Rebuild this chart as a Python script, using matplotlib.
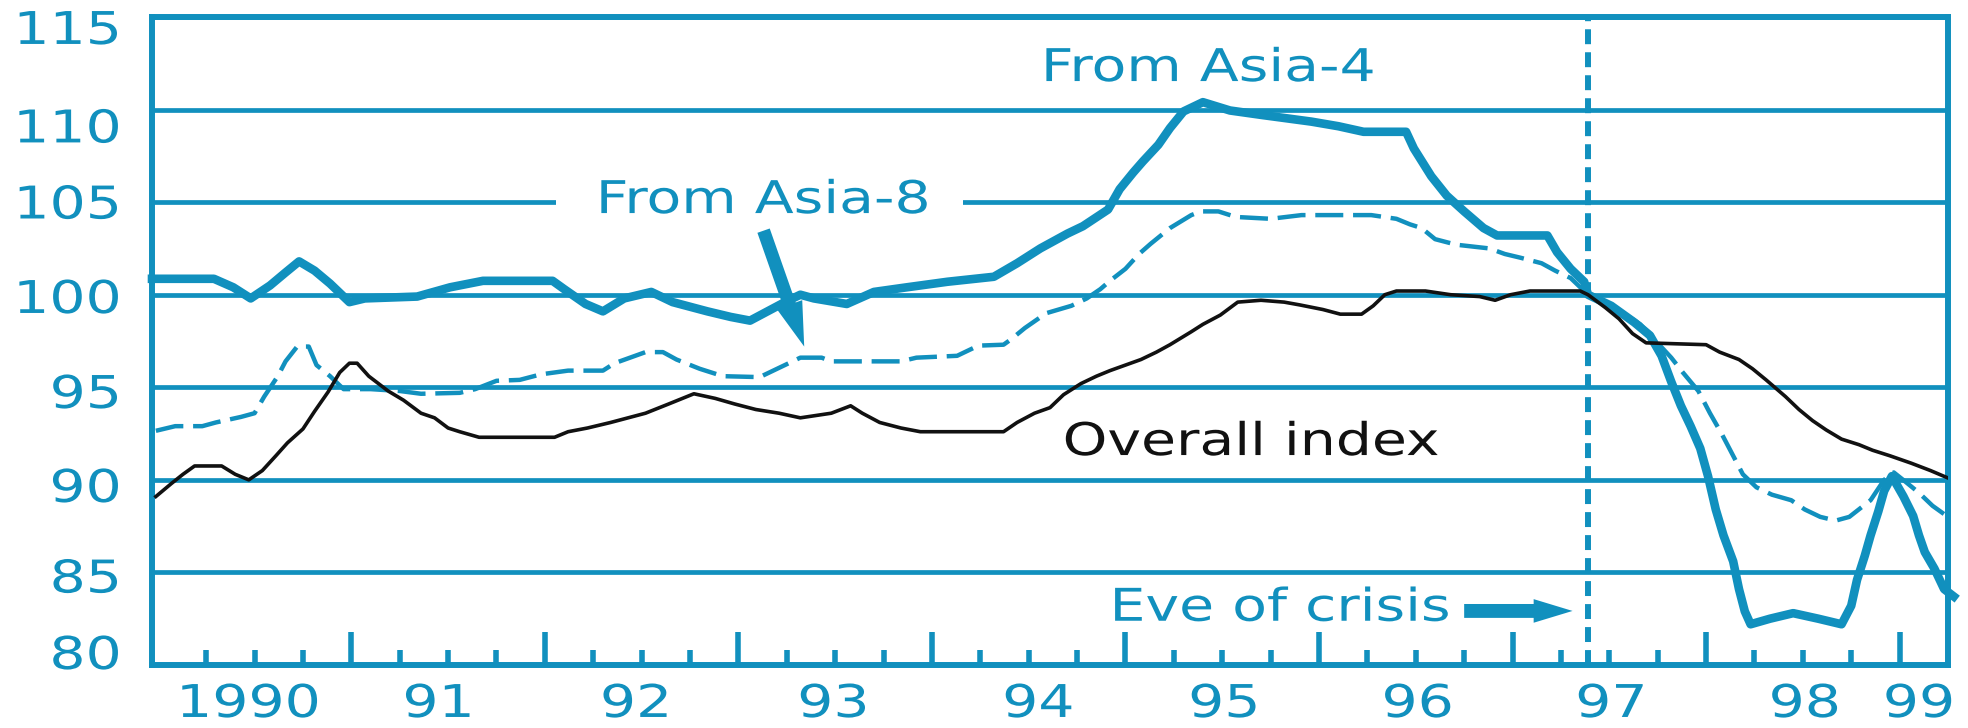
import matplotlib
matplotlib.use('Agg')
import matplotlib.pyplot as plt
from matplotlib.patheffects import AbstractPathEffect
from matplotlib.transforms import Affine2D, ScaledTranslation
from matplotlib.patches import Rectangle

BLUE = '#1190BE'
BLACK = '#111111'

# ---------------- data ----------------
overall_x = [1989.99, 1990.07, 1990.13, 1990.19, 1990.33, 1990.40, 1990.47, 1990.54, 1990.61, 1990.67,
             1990.75, 1990.81, 1990.88, 1990.94, 1990.99, 1991.03, 1991.09, 1991.19, 1991.27, 1991.36,
             1991.43, 1991.50, 1991.56, 1991.66, 1992.05, 1992.12, 1992.22, 1992.34, 1992.43, 1992.52,
             1992.64, 1992.77, 1992.88, 1992.98, 1993.09, 1993.21, 1993.32, 1993.48, 1993.58, 1993.64,
             1993.73, 1993.84, 1993.94, 1994.37, 1994.44, 1994.53, 1994.61, 1994.68, 1994.77, 1994.85,
             1994.92, 1995.00, 1995.08, 1995.16, 1995.23, 1995.34, 1995.40, 1995.49, 1995.58, 1995.70,
             1995.82, 1995.90, 1996.02, 1996.11, 1996.22, 1996.28, 1996.34, 1996.40, 1996.55, 1996.68,
             1996.83, 1996.91, 1996.99, 1997.09, 1997.35, 1997.39, 1997.48, 1997.55, 1997.62, 1997.69,
             1998.00, 1998.07, 1998.17, 1998.24, 1998.31, 1998.41, 1998.48, 1998.55, 1998.62, 1998.70,
             1998.79, 1998.86, 1998.95, 1999.06, 1999.16, 1999.25]
overall_y = [89.1, 89.8, 90.3, 90.75, 90.75, 90.3, 90.0, 90.5, 91.3, 92.0,
             92.75, 93.7, 94.75, 95.8, 96.3, 96.3, 95.6, 94.8, 94.3, 93.6,
             93.35, 92.8, 92.6, 92.3, 92.3, 92.6, 92.8, 93.1, 93.35, 93.6,
             94.1, 94.65, 94.4, 94.1, 93.8, 93.6, 93.35, 93.6, 94.0, 93.6,
             93.1, 92.8, 92.6, 92.6, 93.1, 93.6, 93.9, 94.6, 95.2, 95.6,
             95.9, 96.2, 96.5, 96.9, 97.3, 98.0, 98.4, 98.9, 99.6, 99.7,
             99.6, 99.45, 99.2, 98.95, 98.95, 99.4, 100.0, 100.2, 100.2, 100.0,
             99.9, 99.7, 100.0, 100.2, 100.2, 100.0, 99.3, 98.7, 97.9, 97.4,
             97.3, 96.9, 96.5, 96.0, 95.4, 94.5, 93.8, 93.2, 92.7, 92.2,
             91.9, 91.6, 91.3, 90.9, 90.5, 90.1]

asia4_x = [1989.97, 1990.29, 1990.39, 1990.48, 1990.58, 1990.66, 1990.73, 1990.81, 1990.89, 1990.99,
           1991.07, 1991.34, 1991.51, 1991.68, 1992.04, 1992.10, 1992.21, 1992.30, 1992.41, 1992.55,
           1992.66, 1992.84, 1992.96, 1993.06, 1993.15, 1993.24, 1993.32, 1993.39, 1993.56, 1993.70,
           1993.87, 1994.08, 1994.32, 1994.44, 1994.56, 1994.70, 1994.78, 1994.91, 1994.97, 1995.04,
           1995.09, 1995.17, 1995.23, 1995.30, 1995.40, 1995.54, 1995.71, 1995.96, 1996.10, 1996.23,
           1996.45, 1996.49, 1996.58, 1996.66, 1996.75, 1996.85, 1996.92, 1997.18, 1997.23, 1997.30,
           1997.37, 1997.39, 1997.51, 1997.63, 1997.71, 1997.77, 1997.82, 1997.87, 1997.92, 1997.97,
           1998.01, 1998.05, 1998.09, 1998.14, 1998.17, 1998.20, 1998.23, 1998.33, 1998.45, 1998.58,
           1998.70, 1998.75, 1998.78, 1998.82, 1998.85, 1998.89, 1998.92, 1998.96, 1999.02, 1999.07,
           1999.10, 1999.13, 1999.18, 1999.23, 1999.28]
asia4_y = [100.86, 100.86, 100.4, 99.8, 100.5, 101.2, 101.8, 101.3, 100.6, 99.6,
           99.8, 99.9, 100.4, 100.75, 100.75, 100.3, 99.5, 99.1, 99.8, 100.15,
           99.6, 99.1, 98.8, 98.6, 99.1, 99.6, 100.0, 99.8, 99.5, 100.15,
           100.4, 100.7, 100.97, 101.7, 102.5, 103.3, 103.7, 104.6, 105.7, 106.6,
           107.2, 108.1, 109.0, 109.9, 110.4, 109.95, 109.7, 109.35, 109.1, 108.8,
           108.8, 107.9, 106.4, 105.35, 104.5, 103.6, 103.2, 103.2, 102.3, 101.4,
           100.7, 100.0, 99.4, 98.5, 97.8, 96.7, 95.3, 94.0, 92.9, 91.7,
           90.2, 88.4, 87.0, 85.6, 84.1, 82.9, 82.2, 82.5, 82.8, 82.5,
           82.2, 83.2, 84.6, 85.9, 87.0, 88.3, 89.4, 90.2, 89.1, 88.05,
           87.0, 86.1, 85.2, 84.1, 83.7]

asia8_x = [1989.99, 1990.09, 1990.23, 1990.30, 1990.43, 1990.50, 1990.55, 1990.62, 1990.66, 1990.72,
           1990.78, 1990.82, 1990.89, 1990.96, 1991.10, 1991.25, 1991.36, 1991.56, 1991.64, 1991.75,
           1991.87, 1991.98, 1992.12, 1992.30, 1992.36, 1992.44, 1992.52, 1992.61, 1992.68, 1992.80,
           1992.92, 1993.11, 1993.24, 1993.32, 1993.43, 1993.48, 1993.84, 1993.92, 1994.13, 1994.24,
           1994.37, 1994.41, 1994.48, 1994.59, 1994.72, 1994.80, 1994.87, 1994.92, 1995.00, 1995.07,
           1995.13, 1995.23, 1995.34, 1995.39, 1995.48, 1995.57, 1995.75, 1995.91, 1996.27, 1996.40,
           1996.47, 1996.53, 1996.60, 1996.71, 1996.88, 1996.96, 1997.04, 1997.15, 1997.22, 1997.30,
           1997.39, 1997.48, 1997.56, 1997.66, 1997.74, 1997.82, 1997.88, 1997.96, 1998.02, 1998.08,
           1998.14, 1998.19, 1998.26, 1998.34, 1998.44, 1998.51, 1998.59, 1998.67, 1998.74, 1998.85,
           1998.92, 1998.97, 1999.03, 1999.10, 1999.17, 1999.25]
asia8_y = [92.65, 92.9, 92.9, 93.1, 93.4, 93.6, 94.5, 95.6, 96.4, 97.2,
           97.2, 96.2, 95.6, 94.9, 94.9, 94.8, 94.65, 94.7, 94.9, 95.35,
           95.4, 95.7, 95.9, 95.9, 96.3, 96.6, 96.9, 96.9, 96.5, 96.0,
           95.6, 95.55, 96.2, 96.6, 96.6, 96.4, 96.4, 96.6, 96.7, 97.25,
           97.3, 97.6, 98.2, 99.0, 99.4, 99.8, 100.3, 100.75, 101.4, 102.2,
           102.75, 103.6, 104.3, 104.5, 104.5, 104.2, 104.1, 104.3, 104.3, 104.1,
           103.8, 103.6, 103.0, 102.7, 102.5, 102.2, 102.0, 101.7, 101.3, 100.9,
           100.0, 99.6, 99.1, 98.4, 97.5, 96.6, 95.8, 94.8, 93.6, 92.5,
           91.3, 90.3, 89.6, 89.2, 88.9, 88.4, 88.0, 87.8, 88.0, 88.9,
           90.0, 90.4, 89.9, 89.3, 88.6, 88.0]

crisis_eve = 1997.39
y_ticks = [80, 85, 90, 95, 100, 105, 110, 115]
y_labels = ['80', '85', '90', '95', '100', '105', '110', '115']
year_labels = ['1990', '91', '92', '93', '94', '95', '96', '97', '98', '99']
year_label_pos = [1990.47, 1991.45, 1992.47, 1993.49, 1994.55, 1995.51, 1996.51, 1997.51, 1998.51, 1999.10]

FS = 32.5
SX = 1.26


class Stretch(AbstractPathEffect):
    """Widen text glyphs horizontally (the original uses wide letter spacing)."""
    def __init__(self, sx=SX, anchor='center'):
        super().__init__()
        self._sx = sx
        self._anchor = anchor

    def draw_path(self, renderer, gc, tpath, affine, rgbFace=None):
        ext = tpath.get_extents()
        if self._anchor == 'right':
            cx = ext.x1
        elif self._anchor == 'left':
            cx = ext.x0
        else:
            cx = 0.5 * (ext.x0 + ext.x1)
        tr = Affine2D().translate(-cx, 0).scale(self._sx, 1.0).translate(cx, 0) + affine
        renderer.draw_path(gc, tpath, tr, rgbFace)


fig = plt.figure(figsize=(19.68, 7.28), dpi=100)
ax = fig.add_axes([152 / 1968, 63 / 728, 1796 / 1968, 648 / 728])
ax.set_xlim(1989.97, 1999.25)
ax.set_ylim(80, 115)

for s in ax.spines.values():
    s.set_color(BLUE)
    s.set_linewidth(4.3)

# y axis: gridlines + labels
ax.set_yticks(y_ticks)
ax.set_yticklabels(y_labels)
ax.yaxis.grid(True, color=BLUE, linewidth=3.4)
ax.set_axisbelow(True)
ax.tick_params(axis='y', length=0, pad=22.3, labelsize=FS, labelcolor=BLUE)

# x axis: tall year ticks, short quarter ticks
ax.set_xticks(list(range(1991, 2000)))
ax.set_xticks([y + q for y in range(1990, 1999) for q in (0.25, 0.5, 0.75)], minor=True)
ax.tick_params(axis='x', which='major', direction='in', length=23.8, width=4, color=BLUE,
               labelbottom=False)
ax.tick_params(axis='x', which='minor', direction='in', length=10.8, width=4, color=BLUE)

# y label vertical fine placement (baseline below grid line centre)
nudge_px = {80: -12.5, 85: 3.6, 90: 5.6, 95: 4.2, 100: 1.8, 105: -0.1, 110: 16.4, 115: 10.5}
for tick, v in zip(ax.yaxis.get_major_ticks(), y_ticks):
    lab = tick.label1
    lab.set_va('baseline')
    lab.set_path_effects([Stretch(SX, 'right')])
    dy = -(16.45 + nudge_px[v]) / 100.0
    lab.set_transform(lab.get_transform() + ScaledTranslation(0, dy, fig.dpi_scale_trans))

# year labels (kept just inside the bottom edge of the figure)
for pos, lab in zip(year_label_pos, year_labels):
    ax.text(pos, -0.0802, lab, transform=ax.get_xaxis_transform(), ha='center', va='baseline',
            fontsize=FS, color=BLUE, clip_on=False, path_effects=[Stretch(SX)])

# eve of crisis vertical dashed line
ax.axvline(crisis_eve, color=BLUE, linewidth=4.3, linestyle=(0, (2.5, 1.35)), zorder=1.8)

# series
ax.plot(asia8_x, asia8_y, color=BLUE, linewidth=3.2, linestyle=(0, (6.3, 2.2)), zorder=2)
ax.plot(asia4_x, asia4_y, color=BLUE, linewidth=6.2, solid_joinstyle='round', zorder=3,
        clip_on=False)
ax.plot(overall_x, overall_y, color=BLACK, linewidth=2.6, zorder=4)

# white mask behind "From Asia-8" label
ax.add_patch(Rectangle((1992.06, 104.3), 2.10, 2.0, facecolor='white', edgecolor='none', zorder=1.5))

ax.text(1995.43, 111.54, 'From Asia-4', ha='center', va='baseline', fontsize=FS, color=BLUE,
        path_effects=[Stretch(SX)], zorder=6)
ax.text(1993.13, 104.41, 'From Asia-8', ha='center', va='baseline', fontsize=FS, color=BLUE,
        path_effects=[Stretch(SX)], zorder=6)
ax.text(1995.65, 91.34, 'Overall index', ha='center', va='baseline', fontsize=FS, color=BLACK,
        path_effects=[Stretch(SX)], zorder=6)
ax.text(1995.80, 82.39, 'Eve of crisis', ha='center', va='baseline', fontsize=FS, color=BLUE,
        path_effects=[Stretch(SX)], zorder=6)

ax.annotate('', xy=(1993.34, 97.2), xytext=(1993.13, 103.46),
            arrowprops=dict(arrowstyle='simple,head_length=1.6,head_width=0.97,tail_width=0.47',
                            mutation_scale=20, color=BLUE, lw=0, shrinkA=0, shrinkB=0), zorder=7)
ax.annotate('', xy=(1997.31, 82.92), xytext=(1996.75, 82.92),
            arrowprops=dict(arrowstyle='simple,head_length=1.4,head_width=0.85,tail_width=0.5',
                            mutation_scale=20, color=BLUE, lw=0, shrinkA=0, shrinkB=0), zorder=7)

fig.savefig('out.png', dpi=100)
